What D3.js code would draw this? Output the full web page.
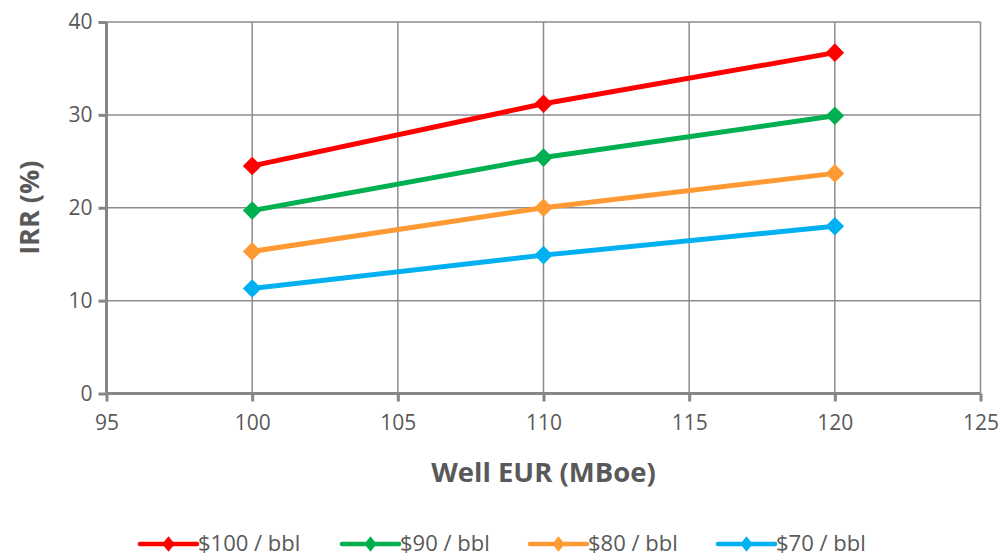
<!DOCTYPE html>
<html>
<head>
<meta charset="utf-8">
<script src="https://cdn.jsdelivr.net/npm/d3@7"></script>
<style>
  html, body { margin: 0; padding: 0; background: #fff; }
  svg { display: block; font-family: "Open Sans", "Noto Sans", sans-serif; }
</style>
</head>
<body>
<svg id="chart" width="1003" height="558"></svg>
<script>
// Well EUR (MBoe) at which IRR was evaluated
const eur = [100, 110, 120];
// IRR (%) for each oil price deck
const irr100 = [24.5, 31.2, 36.7];
const irr90 = [19.7, 25.4, 29.9];
const irr80 = [15.3, 20.0, 23.7];
const irr70 = [11.3, 14.9, 18.0];
const seriesNames = ["$100 / bbl", "$90 / bbl", "$80 / bbl", "$70 / bbl"];
const seriesColors = ["#FF0000", "#00B050", "#FF9933", "#00B0F0"];
const xTicks = [95, 100, 105, 110, 115, 120, 125];
const yTicks = [0, 10, 20, 30, 40];

const series = [irr100, irr90, irr80, irr70].map((vals, i) => ({
  name: seriesNames[i],
  color: seriesColors[i],
  points: vals.map((v, j) => ({ x: eur[j], y: v }))
}));

const svg = d3.select("#chart");
const margin = { left: 106.5, right: 22.5, top: 22, bottom: 164.5 };
const W = 1003, H = 558;

const x = d3.scaleLinear().domain([95, 125]).range([margin.left, W - margin.right]);
const y = d3.scaleLinear().domain([0, 40]).range([H - margin.bottom, margin.top]);

const gridColor = "#8c8c8c";
const axisColor = "#868686";
const textColor = "#595959";

// gridlines
svg.append("g").selectAll("line.h").data(yTicks.filter(d => d > 0)).join("line")
  .attr("x1", x(95)).attr("x2", x(125))
  .attr("y1", d => y(d)).attr("y2", d => y(d))
  .attr("stroke", gridColor).attr("stroke-width", 1.5);
svg.append("g").selectAll("line.v").data(xTicks.filter(d => d > 95)).join("line")
  .attr("y1", y(0)).attr("y2", y(40))
  .attr("x1", d => x(d)).attr("x2", d => x(d))
  .attr("stroke", gridColor).attr("stroke-width", 1.5);

// axes
const yAxis = svg.append("g")
  .attr("transform", `translate(${x(95)},0)`)
  .call(d3.axisLeft(y).tickValues(yTicks).tickSize(8).tickPadding(6));
const xAxis = svg.append("g")
  .attr("transform", `translate(0,${y(0)})`)
  .call(d3.axisBottom(x).tickValues(xTicks).tickSize(8).tickPadding(14));
[xAxis, yAxis].forEach(g => {
  g.select(".domain").attr("stroke", axisColor).attr("stroke-width", 3);
  g.selectAll(".tick line").attr("stroke", axisColor).attr("stroke-width", 3);
  g.selectAll(".tick text").attr("fill", textColor)
    .style("font-size", "21px").style("font-family", "'Open Sans', 'Noto Sans', sans-serif");
});
yAxis.select(".domain").attr("d", `M0,${y(40)}V${y(0)}`);
xAxis.select(".domain").attr("d", `M${x(95)},0H${x(125)}`);

// axis titles
svg.append("text")
  .attr("x", (x(95) + x(125)) / 2).attr("y", 481.5)
  .attr("text-anchor", "middle")
  .attr("fill", textColor).attr("font-weight", "bold").style("font-size", "27.5px")
  .text("Well EUR (MBoe)");
svg.append("text")
  .attr("transform", `translate(38.5,${(y(0) + y(40)) / 2}) rotate(-90)`)
  .attr("text-anchor", "middle")
  .attr("fill", textColor).attr("font-weight", "bold").style("font-size", "27px")
  .text("IRR (%)");

// series lines and diamond markers
const line = d3.line().x(d => x(d.x)).y(d => y(d.y));
const diamond = d3.symbol().type(d3.symbolDiamond2).size(220);
series.forEach(s => {
  svg.append("path").datum(s.points)
    .attr("d", line).attr("fill", "none")
    .attr("stroke", s.color).attr("stroke-width", 5).attr("stroke-linejoin", "round");
  svg.append("g").selectAll("path").data(s.points).join("path")
    .attr("transform", d => `translate(${x(d.x)},${y(d.y)})`)
    .attr("d", diamond).attr("fill", s.color);
});

// legend
const legendX = [140, 342, 530, 718];
const legendY = 544;
series.forEach((s, i) => {
  const g = svg.append("g").attr("transform", `translate(${legendX[i]},${legendY})`);
  g.append("line").attr("x1", 0).attr("x2", 57).attr("y1", 0).attr("y2", 0)
    .attr("stroke", s.color).attr("stroke-width", 4.5).attr("stroke-linecap", "round");
  g.append("path").attr("transform", "translate(28.5,0) scale(0.8,1)")
    .attr("d", d3.symbol().type(d3.symbolDiamond2).size(150)).attr("fill", s.color);
  g.append("text").attr("x", 58).attr("y", 0).attr("dy", "0.34em")
    .attr("fill", textColor).style("font-size", "22px").text(s.name);
});
</script>
</body>
</html>
